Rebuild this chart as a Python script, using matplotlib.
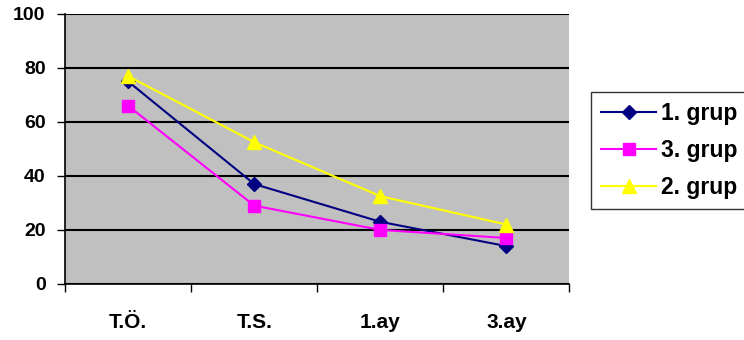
import numpy as np
import matplotlib
matplotlib.use("Agg")
from matplotlib import pyplot as plt

categories = ["T.Ö.", "T.S.", "1.ay", "3.ay"]
grup1 = [75, 37, 23, 14]
grup3 = [66, 29, 20, 17]
grup2 = [77, 52.5, 32.5, 22]

plt.rcParams["font.family"] = ["Liberation Sans", "DejaVu Sans"]
plt.rcParams["font.weight"] = "bold"

fig = plt.figure(figsize=(7.44, 3.40), dpi=100)
ax = fig.add_axes([0.0874, 0.165, 0.678, 0.794])
ax.set_facecolor("#c0c0c0")

x = np.arange(len(categories))
ax.plot(x, grup1, color="#000080", marker="D", markersize=7, lw=1.5,
        label="1. grup", zorder=3)
ax.plot(x, grup3, color="#ff00ff", marker="s", markersize=9, lw=1.5,
        label="3. grup", zorder=3)
ax.plot(x, grup2, color="#ffff00", marker="^", markersize=10, lw=1.5,
        label="2. grup", zorder=3)

ax.set_ylim(0, 100)
ax.set_yticks(np.arange(0, 101, 20))
ax.yaxis.grid(True, color="black", lw=1.5)
ax.set_axisbelow(True)

ax.set_xlim(-0.5, len(categories) - 0.5)
ax.set_xticks(np.arange(-0.5, len(categories), 1))
ax.set_xticklabels([])
ax.set_xticks(x, minor=True)
ax.set_xticklabels(categories, minor=True)
ax.tick_params(axis="x", which="minor", length=0, pad=21, labelsize=15)
ax.tick_params(axis="x", which="major", length=6, width=1, direction="out")
ax.tick_params(axis="y", length=6, width=1, direction="out", labelsize=14,
               pad=8)

for side in ["top", "right"]:
    ax.spines[side].set_visible(False)
for side in ["left", "bottom"]:
    ax.spines[side].set_linewidth(1.2)

leg = fig.legend(loc="upper left", bbox_to_anchor=(0.794, 0.729),
                 frameon=True, fancybox=False, edgecolor="black",
                 fontsize=16.5, handlelength=2.4, handletextpad=0.2,
                 borderpad=0.45, labelspacing=0.6, borderaxespad=0)
leg.get_frame().set_linewidth(1)

fig.savefig("out.png", dpi=100)
